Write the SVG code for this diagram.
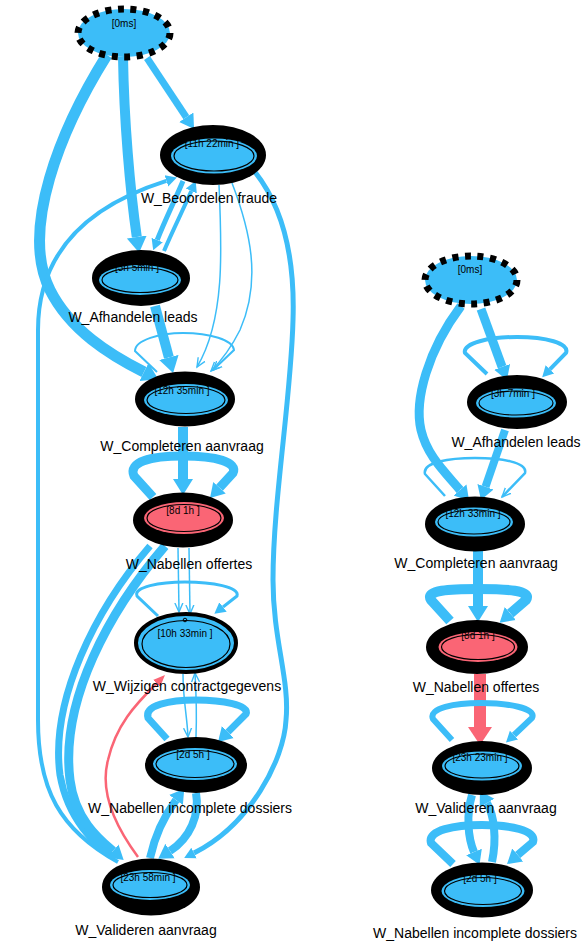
<svg xmlns="http://www.w3.org/2000/svg" width="581" height="945" viewBox="0 0 581 945">
<style>
  .bg{fill:#fff}
  .st{fill:#3CBDF8;stroke:#000;stroke-width:7;stroke-dasharray:6 6.5}
  .ring{fill:#000}
  .core{fill:#3CBDF8}
  .hot{fill:#FA6575}
  .dbl{fill:none;stroke:#000;stroke-width:1.2}
  .frame{fill:#3CBDF8;stroke:#000;stroke-width:4}
  .t{font-family:"Liberation Sans",Arial,sans-serif;font-size:10px;text-anchor:middle;fill:#000}
  .lb{font-family:"Liberation Sans",Arial,sans-serif;font-size:14px;text-anchor:middle;fill:#000}
  .e{fill:none;stroke:#3CBDF8;stroke-linejoin:miter}
  .er{fill:none;stroke:#FA6575}
</style>
<defs>
  <marker id="aXL" markerUnits="userSpaceOnUse" markerWidth="18" markerHeight="22" viewBox="0 -11 18 22" refX="0" refY="0" orient="auto"><path d="M0,-10 L16,0 L0,10 Z" fill="#3CBDF8"/></marker>
  <marker id="aL" markerUnits="userSpaceOnUse" markerWidth="16" markerHeight="20" viewBox="0 -10 16 20" refX="0" refY="0" orient="auto"><path d="M0,-8.5 L14,0 L0,8.5 Z" fill="#3CBDF8"/></marker>
  <marker id="aM" markerUnits="userSpaceOnUse" markerWidth="13" markerHeight="14" viewBox="0 -7 13 14" refX="0" refY="0" orient="auto"><path d="M0,-6 L11,0 L0,6 Z" fill="#3CBDF8"/></marker>
  <marker id="aS" markerUnits="userSpaceOnUse" markerWidth="12" markerHeight="12" viewBox="0 -6 12 12" refX="9" refY="0" orient="auto"><path d="M0,-4 L9,0 L0,4" fill="none" stroke="#3CBDF8" stroke-width="1.4"/></marker>
  <marker id="rXL" markerUnits="userSpaceOnUse" markerWidth="20" markerHeight="26" viewBox="0 -13 20 26" refX="0" refY="0" orient="auto"><path d="M0,-12 L18,0 L0,12 Z" fill="#FA6575"/></marker>
  <marker id="rS" markerUnits="userSpaceOnUse" markerWidth="14" markerHeight="12" viewBox="0 -6 14 12" refX="0" refY="0" orient="auto"><path d="M0,-5 L12,0 L0,5 Z" fill="#FA6575"/></marker>
</defs>
<rect class="bg" x="0" y="0" width="581" height="945"/>

<g id="edges">
  <!-- left map -->
  <path class="e" stroke-width="7" marker-end="url(#aL)" d="M147,58 L186.3,117.3"/>
  <path class="e" stroke-width="10" marker-end="url(#aXL)" d="M123,57 C124,120 130,190 136.8,237"/>
  <path class="e" stroke-width="11" marker-end="url(#aXL)" d="M107,55 C60,130 20,230 50,290 C70,330 110,355 144,372"/>
  <path class="e" stroke-width="4" marker-end="url(#aM)" d="M118,862 C60,830 38,790 38,720 L38,330 C38,250 90,205 166.4,180.9"/>
  <path class="e" stroke-width="5" marker-end="url(#aM)" d="M183,181 C175,200 165,220 157.2,240"/>
  <path class="e" stroke-width="4" marker-end="url(#aM)" d="M164,251 C172,232 183,210 191.3,191"/>
  <path class="e" stroke-width="1.5" marker-end="url(#aS)" d="M219,185 C222,250 225,320 197,367"/>
  <path class="e" stroke-width="1.5" marker-end="url(#aS)" d="M232,183 C250,230 262,280 240,330 C230,350 220,362 211,371"/>
  <path class="e" stroke-width="10" marker-end="url(#aXL)" d="M155,306 L168.9,357.5"/>
  <path class="e" stroke-width="2" marker-end="url(#aS)" d="M157,372 L135,351 C135,340 160,333 183,333 C210,333 233,340 234,350 L213,370"/>
  <path class="e" stroke-width="10" marker-end="url(#aXL)" d="M183,427 L183,479"/>
  <path class="e" stroke-width="9" marker-end="url(#aL)" d="M153,497 L134,476 C128,462 150,456 183,456 C216,456 238,462 233,473 L219.5,487.7"/>
  <path class="e" stroke-width="1.5" marker-end="url(#aS)" d="M178,548 L179,612"/>
  <path class="e" stroke-width="1.5" marker-end="url(#aS)" d="M189,548 L190,614"/>
  <path class="e" stroke-width="3" marker-end="url(#aM)" d="M158,616 L137,596 C133,587 160,582 185,582 C212,582 240,587 237,596 L223,607"/>
  <path class="e" stroke-width="1.5" marker-end="url(#aS)" d="M183,674 C183,700 187,715 188,737"/>
  <path class="e" stroke-width="1.5" marker-end="url(#aS)" d="M196,737 C197,710 196,690 195,673"/>
  <path class="e" stroke-width="7" marker-end="url(#aL)" d="M167,739 L148,718 C144,705 170,700 196,700 C222,700 250,705 246,714 L227.9,732.1"/>
  <path class="e" stroke-width="8" marker-end="url(#aL)" d="M150,858 C155,835 165,815 176,800"/>
  <path class="e" stroke-width="8" marker-end="url(#aL)" d="M196,793 C200,815 190,838 170,851"/>
  <path class="e" stroke-width="7" d="M150,546 C95,610 50,700 60,775 C68,820 95,845 114,857"/>
  <path class="e" stroke-width="9" marker-end="url(#aL)" d="M165,546 C110,610 60,700 70,780 C75,820 100,840 113,851"/>
  <path class="e" stroke-width="5" marker-end="url(#aM)" d="M255,172 C285,210 295,260 293,320 C291,400 273,500 273,580 C273,640 290,680 286,720 C284,760 250,825 194,853"/>
  <path class="er" stroke-width="2.5" marker-end="url(#rS)" d="M138,857 C112,822 100,790 108,760 C116,725 135,705 156.5,683.5"/>

  <!-- right map -->
  <path class="e" stroke-width="9" marker-end="url(#aL)" d="M481,309 L502.1,366.9"/>
  <path class="e" stroke-width="4" marker-end="url(#aM)" d="M487,374 L465,353 C462,343 490,337 517,337 C545,337 570,343 566,353 L549.9,369.4"/>
  <path class="e" stroke-width="9" marker-end="url(#aL)" d="M461,306 C428,350 414,400 421,430 C427,455 443,470 460,490"/>
  <path class="e" stroke-width="8" marker-end="url(#aL)" d="M505,430 L485.5,486.8"/>
  <path class="e" stroke-width="2.5" marker-end="url(#aS)" d="M445,496 L425,474 C422,462 450,458 475,458 C500,458 528,462 525,473 L502,497"/>
  <path class="e" stroke-width="10" marker-end="url(#aXL)" d="M478,551 L478,606"/>
  <path class="e" stroke-width="10" marker-end="url(#aL)" d="M450,621 L431,600 C425,590 450,589 478,589 C506,589 532,590 526,600 L510.3,613.5"/>
  <path class="er" stroke-width="12" marker-end="url(#rXL)" d="M480,674 L480,727"/>
  <path class="e" stroke-width="6" marker-end="url(#aM)" d="M452,740 L433,719 C428,708 455,703 481,703 C507,703 537,708 532,718 L514,735"/>
  <path class="e" stroke-width="8" marker-end="url(#aL)" d="M472,795 C466,815 468,838 474,852"/>
  <path class="e" stroke-width="8" marker-end="url(#aL)" d="M492,862 C497,838 494,815 487,803"/>
  <path class="e" stroke-width="8" marker-end="url(#aL)" d="M453,864 L431,843 C427,830 455,825 482,825 C509,825 537,830 533,842 L517.7,855"/>
</g>

<!-- left process map -->
<g id="n_start_l">
  <ellipse class="st" cx="124" cy="33" rx="46" ry="24"/>
  <text class="t" x="124" y="26.5">[0ms]</text>
</g>
<g id="n_beoordelen_fraude">
  <ellipse class="ring" cx="213" cy="155" rx="53" ry="30"/>
  <ellipse class="core" cx="214" cy="156" rx="43" ry="17.5"/>
  <ellipse class="dbl" cx="214" cy="156" rx="40" ry="15"/>
  <circle cx="213" cy="131" r="1.8" fill="none" stroke="#000" stroke-width="1"/>
  <text class="t" x="212" y="146.5">[11h 22min ]</text>
  <text class="lb" x="209" y="203">W_Beoordelen fraude</text>
</g>
<g id="n_afhandelen_leads_l">
  <ellipse class="ring" cx="141" cy="278" rx="49" ry="28"/>
  <ellipse class="core" cx="140" cy="280" rx="41" ry="15"/>
  <ellipse class="dbl" cx="140" cy="280" rx="38" ry="12.5"/>
  <text class="t" x="137" y="270.5">[3h 5min ]</text>
  <text class="lb" x="133" y="322">W_Afhandelen leads</text>
</g>
<g id="n_completeren_l">
  <ellipse class="ring" cx="185" cy="399" rx="50" ry="27.5"/>
  <ellipse class="core" cx="186" cy="400" rx="42" ry="16"/>
  <ellipse class="dbl" cx="186" cy="400" rx="39" ry="13.5"/>
  <text class="t" x="182" y="393.5">[12h 35min ]</text>
  <text class="lb" x="182" y="451">W_Completeren aanvraag</text>
</g>
<g id="n_nabellen_offertes_l">
  <ellipse class="ring" cx="183" cy="520" rx="50" ry="27.5"/>
  <ellipse class="hot" cx="184" cy="518" rx="40" ry="16"/>
  <ellipse class="dbl" cx="184" cy="518" rx="37" ry="13.5"/>
  <text class="t" x="183" y="513.5">[8d 1h ]</text>
  <text class="lb" x="189" y="569">W_Nabellen offertes</text>
</g>
<g id="n_wijzigen">
  <ellipse class="frame" cx="186" cy="643" rx="50" ry="29"/>
  <ellipse class="dbl" cx="186" cy="644" rx="44" ry="23.5"/>
  <circle cx="185" cy="620" r="1.8" fill="none" stroke="#000" stroke-width="1"/>
  <text class="t" x="185" y="636.5">[10h 33min ]</text>
  <text class="lb" x="187" y="691">W_Wijzigen contractgegevens</text>
</g>
<g id="n_dossiers_l">
  <ellipse class="ring" cx="196" cy="765" rx="51" ry="28"/>
  <ellipse class="core" cx="195" cy="764" rx="42" ry="16"/>
  <ellipse class="dbl" cx="195" cy="764" rx="39" ry="13.5"/>
  <text class="t" x="193" y="757.5">[2d 5h ]</text>
  <text class="lb" x="190" y="813">W_Nabellen incomplete dossiers</text>
</g>
<g id="n_valideren_l">
  <ellipse class="ring" cx="151" cy="887" rx="49" ry="28.5"/>
  <ellipse class="core" cx="150" cy="885" rx="40" ry="15"/>
  <ellipse class="dbl" cx="150" cy="885" rx="37" ry="12.5"/>
  <text class="t" x="148" y="880.5">[23h 58min ]</text>
  <text class="lb" x="146" y="935">W_Valideren aanvraag</text>
</g>

<!-- right process map -->
<g id="n_start_r">
  <ellipse class="st" cx="471" cy="280" rx="46" ry="24"/>
  <text class="t" x="470" y="272.5">[0ms]</text>
</g>
<g id="n_afhandelen_leads_r">
  <ellipse class="ring" cx="517" cy="402" rx="50" ry="27"/>
  <ellipse class="core" cx="516" cy="403" rx="40" ry="14.5"/>
  <ellipse class="dbl" cx="516" cy="403" rx="37" ry="12"/>
  <text class="t" x="513" y="396.5">[3h 7min ]</text>
  <text class="lb" x="516" y="447">W_Afhandelen leads</text>
</g>
<g id="n_completeren_r">
  <ellipse class="ring" cx="475" cy="524" rx="50" ry="27.5"/>
  <ellipse class="core" cx="474" cy="522" rx="39" ry="14.5"/>
  <ellipse class="dbl" cx="474" cy="522" rx="36" ry="12"/>
  <text class="t" x="473" y="516.5">[12h 33min ]</text>
  <text class="lb" x="476" y="568">W_Completeren aanvraag</text>
</g>
<g id="n_nabellen_offertes_r">
  <ellipse class="ring" cx="477" cy="647" rx="51" ry="27"/>
  <ellipse class="hot" cx="478" cy="647" rx="39.5" ry="15"/>
  <ellipse class="dbl" cx="478" cy="647" rx="36.5" ry="12.5"/>
  <text class="t" x="478" y="638.5">[8d 1h ]</text>
  <text class="lb" x="476" y="692">W_Nabellen offertes</text>
</g>
<g id="n_valideren_r">
  <ellipse class="ring" cx="482" cy="768" rx="50" ry="27"/>
  <ellipse class="core" cx="482" cy="766" rx="40" ry="14.5"/>
  <ellipse class="dbl" cx="482" cy="766" rx="37" ry="12"/>
  <text class="t" x="480" y="760.5">[23h 23min ]</text>
  <text class="lb" x="486" y="813">W_Valideren aanvraag</text>
</g>
<g id="n_dossiers_r">
  <ellipse class="ring" cx="482" cy="890" rx="51" ry="27.5"/>
  <ellipse class="core" cx="483" cy="891" rx="41.5" ry="16"/>
  <ellipse class="dbl" cx="483" cy="891" rx="38.5" ry="13.5"/>
  <text class="t" x="480" y="881.5">[2d 5h ]</text>
  <text class="lb" x="475" y="938">W_Nabellen incomplete dossiers</text>
</g>
</svg>
